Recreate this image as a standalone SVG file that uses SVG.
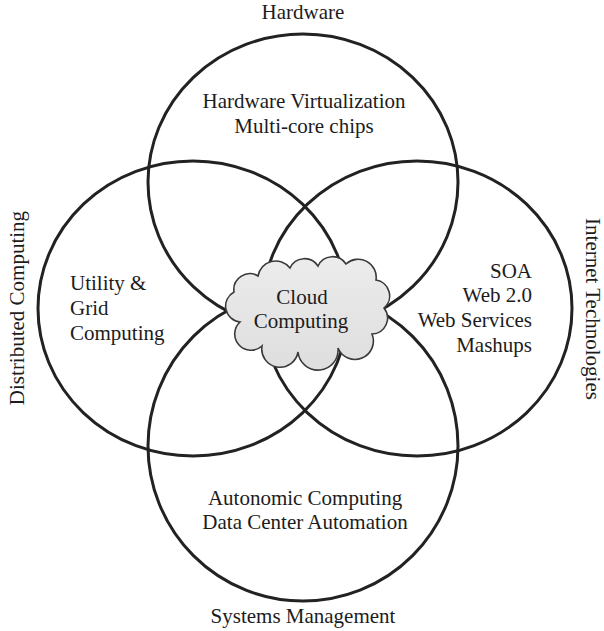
<svg xmlns="http://www.w3.org/2000/svg" width="604" height="631" viewBox="0 0 604 631">
  <defs>
    <linearGradient id="cloudFill" x1="0" y1="0" x2="0" y2="1">
      <stop offset="0" stop-color="#ececec"/>
      <stop offset="1" stop-color="#dedede"/>
    </linearGradient>
    <style>
      .ring { fill: none; stroke: #222; stroke-width: 3; }
      .cloud { fill: url(#cloudFill); stroke: #3a3a3a; stroke-width: 1.6; }
      .t { font-family: "Liberation Serif", "Times New Roman", serif; font-size: 21px; fill: #1c1c1c; }
      .c { text-anchor: middle; }
      .r { text-anchor: end; }
    </style>
  </defs>
  <rect width="604" height="631" fill="#ffffff"/>

  <g id="hardware">
    <ellipse class="ring" cx="303" cy="182" rx="155" ry="148"/>
    <text class="t c" x="303" y="19">Hardware</text>
    <text class="t c" x="304" y="108">Hardware Virtualization</text>
    <text class="t c" x="304" y="133">Multi-core chips</text>
  </g>

  <g id="distributed-computing">
    <ellipse class="ring" cx="193" cy="308.5" rx="155" ry="147.5"/>
    <text class="t c" transform="translate(24 308) rotate(-90)" x="0" y="0">Distributed Computing</text>
    <text class="t" x="70" y="290">Utility &amp;</text>
    <text class="t" x="70" y="315">Grid</text>
    <text class="t" x="70" y="340">Computing</text>
  </g>

  <g id="internet-technologies">
    <ellipse class="ring" cx="417" cy="308.5" rx="155" ry="147.5"/>
    <text class="t c" transform="translate(586 309) rotate(90)" x="0" y="0">Internet Technologies</text>
    <text class="t r" x="532" y="278">SOA</text>
    <text class="t r" x="532" y="302">Web 2.0</text>
    <text class="t r" x="532" y="327">Web Services</text>
    <text class="t r" x="532" y="352">Mashups</text>
  </g>

  <g id="systems-management">
    <circle class="ring" cx="303" cy="446" r="155"/>
    <text class="t c" x="305" y="505">Autonomic Computing</text>
    <text class="t c" x="305" y="529">Data Center Automation</text>
    <text class="t c" x="303" y="623">Systems Management</text>
  </g>

  <g id="cloud-computing">
    <path class="cloud" d="M 240 322 A 16 16 0 0 1 234 292 A 16 16 0 0 1 258 276 A 18 18 0 0 1 290 268 A 16 16 0 0 1 318 266 A 16 16 0 0 1 346 264 A 18 18 0 0 1 376 280 A 16 16 0 0 1 384 308 A 16 16 0 0 1 372 334 A 18 18 0 0 1 338 348 A 20 20 0 0 1 298 352 A 18 18 0 0 1 262 346 A 14 14 0 0 1 240 322 Z"/>
    <text class="t c" x="302" y="304">Cloud</text>
    <text class="t c" x="301" y="328">Computing</text>
  </g>
</svg>
